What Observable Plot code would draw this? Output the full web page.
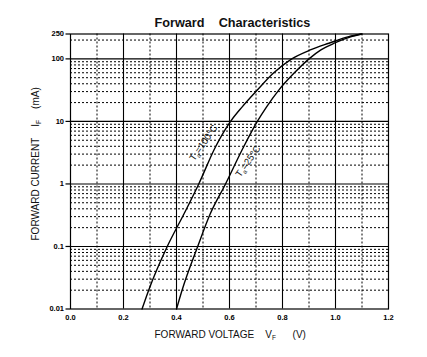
<!DOCTYPE html>
<html><head><meta charset="utf-8">
<script src="https://cdn.jsdelivr.net/npm/d3@7"></script>
<script src="https://cdn.jsdelivr.net/npm/@observablehq/plot@0.6"></script>
<style>body{margin:0;background:#fff}</style>
</head><body><div id="chart"></div>
<script>
// Curve data: forward voltage (V) vs forward current (mA)
const v100 = [0.27, 0.295, 0.365, 0.428, 0.484, 0.547, 0.604, 0.648, 0.705, 0.765, 0.835, 0.905, 0.975, 1.05, 1.097];
const i100 = [0.01, 0.02, 0.1, 0.33, 1, 3.9, 10, 17.1, 31.7, 58.7, 100, 139, 178, 227, 250];
const v25 = [0.40, 0.421, 0.48, 0.527, 0.585, 0.653, 0.705, 0.74, 0.786, 0.843, 0.90, 0.945, 0.995, 1.06, 1.10];
const i25 = [0.01, 0.02, 0.1, 0.33, 1, 3.9, 10, 17.1, 31.7, 58.7, 100, 139, 178, 227, 250];

// Ticks and grid
const xTicks = [0.0, 0.2, 0.4, 0.6, 0.8, 1.0, 1.2];
const xMajorGrid = [0.2, 0.4, 0.6, 0.8, 1.0];
const xMinorGrid = [0.1, 0.3, 0.5, 0.7, 0.9, 1.1];
const yTicks = [0.01, 0.1, 1, 10, 100, 250];
const yTickLabels = ["0.01", "0.1", "1", "10", "100", "250"];
const yMajorGrid = [0.1, 1, 10, 100];
const yMinorGrid = [
  0.02, 0.03, 0.04, 0.05, 0.06, 0.07, 0.08, 0.09,
  0.2, 0.3, 0.4, 0.5, 0.6, 0.7, 0.8, 0.9,
  2, 3, 4, 5, 6, 7, 8, 9,
  20, 30, 40, 50, 60, 70, 80, 90,
  200
];

// Labels
const curveLabels = ["T_a=100°C", "T_a=25°C"];
const labelV = [0.502, 0.670];
const labelI = [4.55, 2.30];
const titleText = "Forward    Characteristics";
const xTitle = "FORWARD VOLTAGE    V_F      (V)";
const yTitle = "FORWARD CURRENT    I_F    (mA)";

const curves = [
  ...v100.map((v, k) => ({v, i: i100[k], t: "100"})),
  ...v25.map((v, k) => ({v, i: i25[k], t: "25"}))
];
const labels = curveLabels.map((s, k) => ({s, v: labelV[k], i: labelI[k]}));
const yTickData = yTicks.map((y, k) => ({y, s: yTickLabels[k]}));

const font = "'Liberation Sans', Arial, Helvetica, sans-serif";
const dash = "2,2";

const chart = Plot.plot({
  width: 427,
  height: 357,
  marginLeft: 70,
  marginRight: 39,
  marginTop: 33.5,
  marginBottom: 48.5,
  style: {fontFamily: font, background: "#fff", color: "#000"},
  x: {domain: [0, 1.2]},
  y: {type: "log", domain: [0.01, 250]},
  marks: [
    Plot.ruleX(xMinorGrid, {stroke: "#000", strokeWidth: 1, strokeDasharray: dash}),
    Plot.ruleY(yMinorGrid, {stroke: "#000", strokeWidth: 1, strokeDasharray: dash}),
    Plot.ruleX(xMajorGrid, {stroke: "#000", strokeWidth: 1.1}),
    Plot.ruleY(yMajorGrid, {stroke: "#000", strokeWidth: 1.1}),
    Plot.frame({stroke: "#000", strokeWidth: 1.2}),
    Plot.line(curves, {x: "v", y: "i", z: "t", curve: "monotone-x", stroke: "#000", strokeWidth: 1.4}),
    Plot.text(labels, {x: "v", y: "i", text: "s", rotate: -55, fontSize: 9.5, fill: "#111", className: "rich"}),
    Plot.axisX(xTicks, {tickSize: 0, tickPadding: 6, tickFormat: d => d.toFixed(1), fontSize: 7.5, fontWeight: "bold", label: null}),
    Plot.axisY(yTicks, {tickSize: 4.5, tickFormat: () => "", label: null, strokeWidth: 1.2}),
    Plot.text(yTickData, {y: "y", text: "s", frameAnchor: "left", dx: -6.5, textAnchor: "end", fontSize: 7.5, fontWeight: "bold", fill: "#000"}),
    Plot.text([titleText], {frameAnchor: "top-left", dx: 84, dy: -6.8, textAnchor: "start", lineAnchor: "bottom", fontSize: 12.7, fontWeight: "bold", fill: "#111", className: "rich"}),
    Plot.text([xTitle], {frameAnchor: "bottom-left", dx: 84, dy: 28.5, textAnchor: "start", lineAnchor: "bottom", fontSize: 10, fill: "#111", className: "rich"}),
    Plot.text([yTitle], {frameAnchor: "bottom-left", dx: -32, dy: -68.5, textAnchor: "start", lineAnchor: "bottom", rotate: -90, fontSize: 10, fill: "#111", className: "rich"})
  ]
});

// Render subscripts (e.g. "_F") as real tspans and keep multiple spaces
d3.select(chart).selectAll(".rich text").each(function () {
  const el = d3.select(this);
  const s = el.text();
  el.text(null).attr("xml:space", "preserve").style("white-space", "pre");
  const parts = s.split(/(_[A-Za-z])/);
  let shifted = false;
  parts.forEach(p => {
    if (!p) return;
    if (p[0] === "_") {
      el.append("tspan").attr("dy", 2.5).attr("font-size", "65%").text(p.slice(1));
      shifted = true;
    } else {
      const ts = el.append("tspan").text(p);
      if (shifted) { ts.attr("dy", -2.5); shifted = false; }
    }
  });
});

document.getElementById("chart").appendChild(chart);
</script>
</body></html>
